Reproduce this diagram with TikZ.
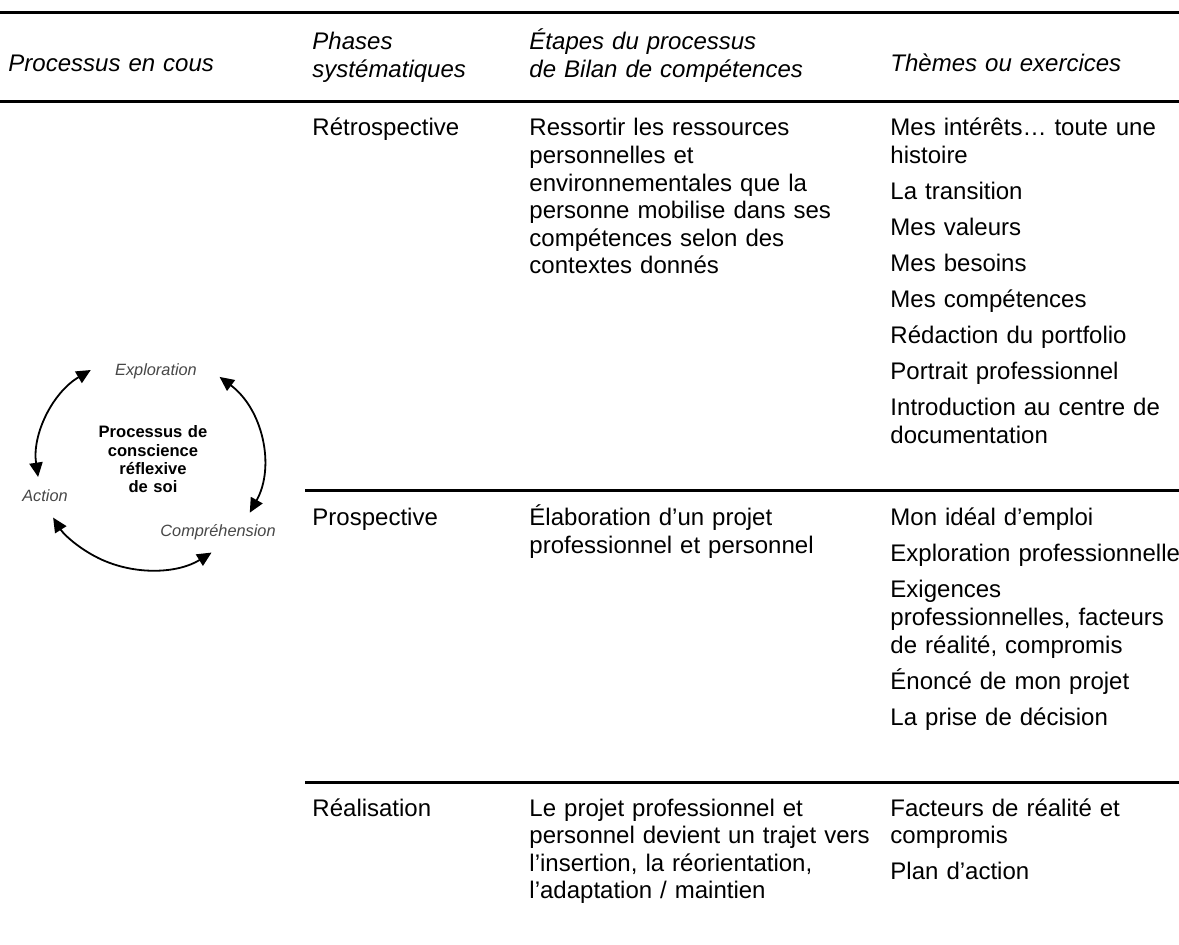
\documentclass[tikz,border=0pt]{standalone}
\usepackage{fontspec}
\setmainfont{Liberation Sans}
\usetikzlibrary{arrows.meta}
\begin{document}
\begin{tikzpicture}[x=0.41667pt,y=-0.41667pt,
  bd/.style={anchor=base west,inner sep=0pt,text width=#1,align=left,font=\fontsize{10}{11.5}\selectfont},
  bd/.default=150pt,
  hd/.style={bd=#1,font=\fontsize{10}{11.5}\selectfont\itshape},
  hd/.default=150pt,
  hrule/.style={line width=1.25pt},
  cyc/.style={line width=0.75pt,{Triangle[length=6pt,width=5.5pt]}-{Triangle[length=6pt,width=5.5pt]}},
  lbl/.style={inner sep=0pt,anchor=base,font=\fontsize{6.8}{8}\selectfont\itshape,text=black!72},
  ctr/.style={inner sep=0pt,anchor=base,text width=60pt,align=center,font=\fontsize{6.9}{7.6}\selectfont\bfseries}]
\fill[white] (0,0) rectangle (1179,945);
\path[use as bounding box] (0,0) rectangle (1179,945);

% rules
\coordinate (r0a) at (0,13);   \coordinate (r0b) at (1179,13);
\coordinate (r1a) at (0,102);  \coordinate (r1b) at (1179,102);
\coordinate (r2a) at (305,491); \coordinate (r2b) at (1179,491);
\coordinate (r3a) at (305,782); \coordinate (r3b) at (1179,782);
\draw[hrule] (r0a) -- (r0b);
\draw[hrule] (r1a) -- (r1b);
\draw[hrule] (r2a) -- (r2b);
\draw[hrule] (r3a) -- (r3b);

% header
\node[hd] (h1) at (8,72) {Processus en cous};
\node[hd] (h2) at (312,50) {Phases\\systématiques};
\node[hd] (h3) at (529,50) {Étapes du processus\\de Bilan de compétences};
\node[hd] (h4) at (890,72) {Thèmes ou exercices};

% row 1
\node[bd] (p1) at (312,136) {Rétrospective};
\node[bd] (e1) at (529,136) {Ressortir les ressources\\personnelles et\\environnementales que la\\personne mobilise dans ses\\compétences selon des\\contextes donnés};
\node[bd] (t1) at (890,136) {Mes intérêts… toute une\\histoire\\[3.5pt]La transition\\[3.5pt]Mes valeurs\\[3.5pt]Mes besoins\\[3.5pt]Mes compétences\\[3.5pt]Rédaction du portfolio\\[3.5pt]Portrait professionnel\\[3.5pt]Introduction au centre de\\documentation};

% row 2
\node[bd] (p2) at (312,526) {Prospective};
\node[bd] (e2) at (529,526) {Élaboration d’un projet\\professionnel et personnel};
\node[bd] (t2) at (890,526) {Mon idéal d’emploi\\[3.5pt]Exploration professionnelle\\[3.5pt]Exigences\\professionnelles, facteurs\\de réalité, compromis\\[3.5pt]Énoncé de mon projet\\[3.5pt]La prise de décision};

% row 3
\node[bd] (p3) at (312,816) {Réalisation};
\node[bd] (e3) at (529,816) {Le projet professionnel et\\personnel devient un trajet vers\\l’insertion, la réorientation,\\l’adaptation / maintien};
\node[bd] (t3) at (890,816) {Facteurs de réalité et\\compromis\\[3.5pt]Plan d’action};

% cycle
\coordinate (cc) at (150,462);
\node[ctr] (core) at (153,438) {Processus de\\conscience\\réflexive\\de soi};
\node[lbl] (lx) at (156,376) {Exploration};
\node[lbl] (la) at (45,502) {Action};
\node[lbl] (lc) at (218,537) {Compréhension};
\path (cc) ++(-121.6:113 and 108) coordinate (a1);
\path (cc) ++(-52:113 and 108) coordinate (a2);
\path (cc) ++(57:113 and 108) coordinate (a3);
\draw[cyc] (a1) arc[start angle=-121.6,end angle=-188,x radius=113,y radius=108];
\draw[cyc] (a2) arc[start angle=-52,end angle=28,x radius=113,y radius=108];
\draw[cyc] (a3) arc[start angle=57,end angle=149,x radius=113,y radius=108];
\end{tikzpicture}
\end{document}
